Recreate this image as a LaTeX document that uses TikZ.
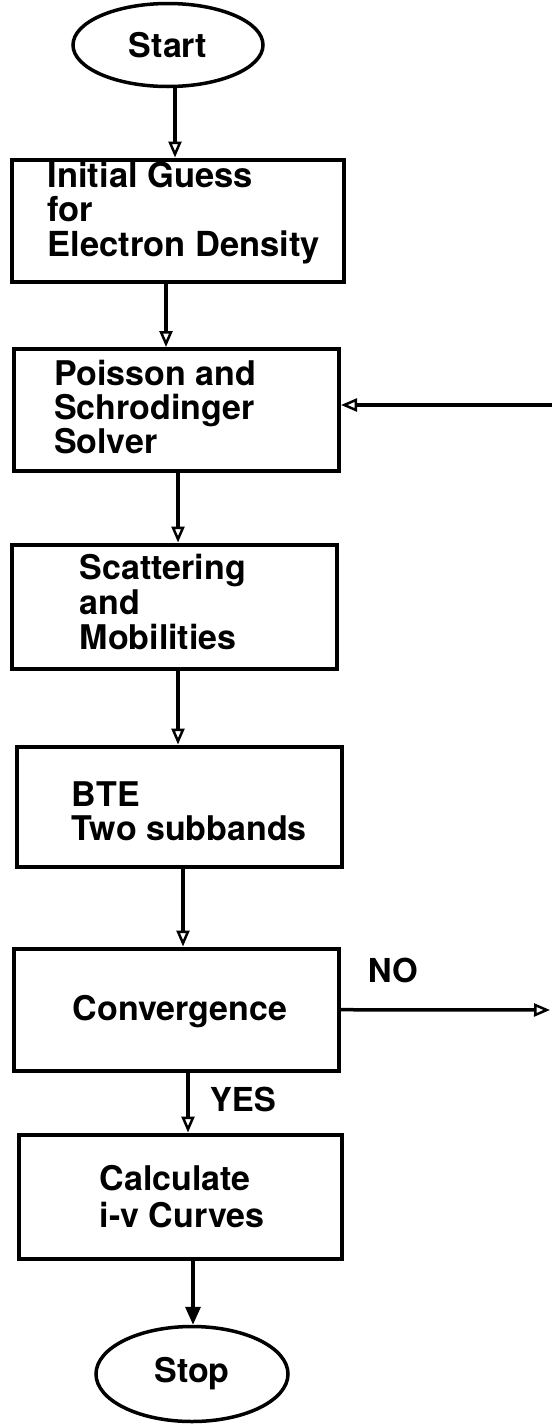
\documentclass[tikz,border=0pt]{standalone}
\usepackage{fontspec}
\setmainfont{TeX Gyre Heros}
\usepackage{tikz}
\usetikzlibrary{arrows.meta,shapes.geometric,positioning}

\begin{document}
\begin{tikzpicture}[x=1pt, y=-1pt,
  box/.style={draw, line width=4pt, minimum width=325pt,
              minimum height=122pt, inner sep=0pt},
  oval/.style={draw, ellipse, line width=3.5pt, inner sep=0pt,
               font=\fontsize{34}{34}\selectfont\bfseries},
  txt/.style={align=left, inner sep=0pt,
              font=\fontsize{34}{34}\selectfont\bfseries},
  lbl/.style={inner sep=0pt, font=\fontsize{33}{33}\selectfont\bfseries},
  arr/.style={line width=3.5pt,
              -{Triangle[open, length=16pt, width=13pt, line width=2.5pt]}}]
\useasboundingbox (0,0) rectangle (552,1425);
\node[oval, minimum width=190pt, minimum height=83pt] (start) at (168,45) {Start};
\node[box, minimum width=332pt] (guess) at (177.5,220.5) {};
\node[txt, font=\fontsize{34.5}{34.5}\selectfont\bfseries,
      right=38pt of guess.west, yshift=8pt] (guesstxt) {Initial Guess\\for\\Electron Density};
\node[box] (solve) at (176.5,410) {};
\node[txt, right=42pt of solve.west, yshift=2.5pt] (solvetxt) {Poisson and\\Schrodinger\\Solver};
\node[box, minimum height=124pt] (scatter) at (174,606.5) {};
\node[txt, font=\fontsize{34}{35}\selectfont\bfseries,
      right=70pt of scatter.west, yshift=4.5pt] (scattertxt) {Scattering\\and\\Mobilities};
\node[box, minimum height=120pt] (bte) at (179,806.5) {};
\node[txt, font=\fontsize{34}{34}\selectfont\bfseries,
      right=57pt of bte.west, yshift=-5pt] (btetxt) {BTE\\Two subbands};
\node[box] (conv) at (176,1009.5) {};
\node[txt, right=61pt of conv.west, yshift=-2.5pt] (convtxt) {Convergence};
\node[box, minimum width=323pt, minimum height=124pt] (calc) at (180,1196.5) {};
\node[txt, font=\fontsize{34}{37}\selectfont\bfseries,
      right=83pt of calc.west] (calctxt) {Calculate\\i-v Curves};
\node[oval, minimum width=192pt, minimum height=95pt] (stop) at (192,1374) {Stop};
\coordinate (back) at (552,405);
\coordinate (out) at (550,1010);
% main line
\draw[arr] ([xshift=7pt]start.south) -- ([xshift=7pt]start.south |- guess.north);
\draw[arr] ([xshift=-11.5pt]guess.south) -- ([xshift=-11.5pt]guess.south |- solve.north);
\draw[arr] ([xshift=1.5pt]solve.south) -- ([xshift=1.5pt]solve.south |- scatter.north);
\draw[arr] ([xshift=4pt]scatter.south) -- ([xshift=4pt]scatter.south |- bte.north);
\draw[arr] ([xshift=4pt]bte.south) -- ([xshift=4pt]bte.south |- conv.north);
\draw[arr] ([xshift=12pt]conv.south) -- node[lbl, right=20pt, pos=0.45] (yes) {YES}
  ([xshift=12pt]conv.south |- calc.north);
\draw[line width=3.5pt, -{Triangle[length=18pt, width=15pt]}]
  ([xshift=13pt]calc.south) -- ([xshift=13pt]calc.south |- stop.north);
% loop back
\draw[arr] (conv) -- node[lbl, pos=0.25, above=25pt] (no) {NO} (out);
\draw[arr] (back) -- (back -| solve.east);
\end{tikzpicture}
\end{document}
